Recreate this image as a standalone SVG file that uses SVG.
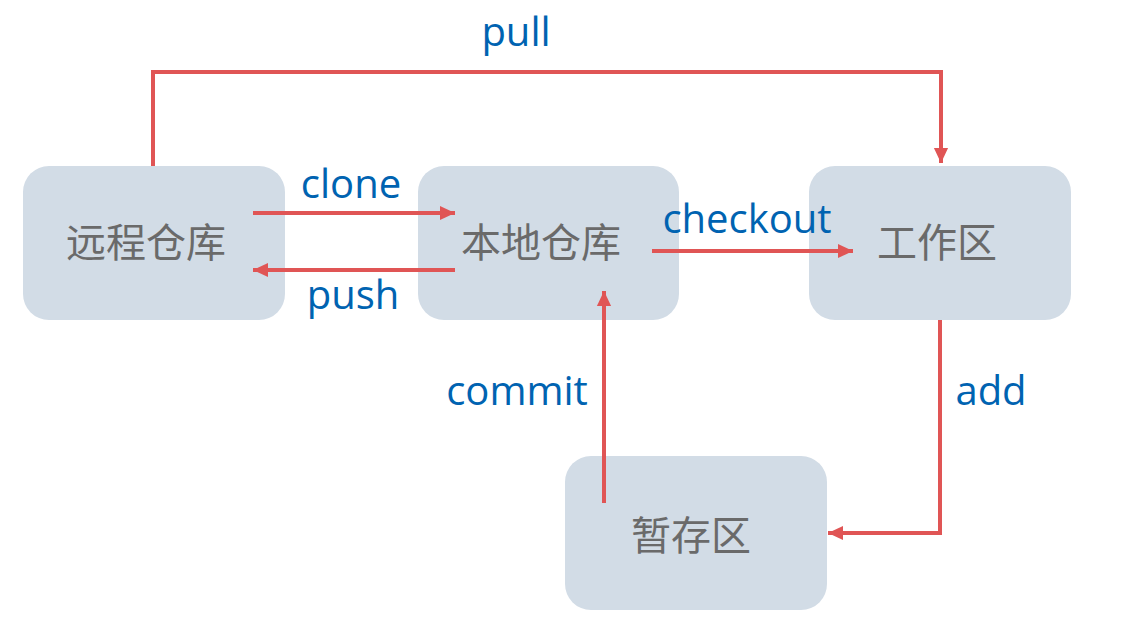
<svg xmlns="http://www.w3.org/2000/svg" width="1131" height="628" viewBox="0 0 1131 628">
<style>
.node rect{fill:#D2DCE6}
.node text{font-family:"Noto Sans CJK SC","Noto Sans",sans-serif;font-size:40px;fill:#6a6a6a;text-anchor:middle;dominant-baseline:central}
.edge{fill:none;stroke:#E05555;stroke-width:4}
.lbl{font-family:"Open Sans","Noto Sans",sans-serif;font-size:40px;fill:#0063B1;text-anchor:middle}
</style>
<defs>
<marker id="ah" markerWidth="5" markerHeight="5" refX="3.8" refY="2" orient="auto" markerUnits="strokeWidth">
<path d="M0,0.2 L3.8,2 L0,3.8 Z" fill="#E05555"/>
</marker>
</defs>
<rect width="1131" height="628" fill="#ffffff"/>
<g id="remote" class="node"><rect x="23" y="166" width="262" height="154" rx="26"/><text x="146" y="240">远程仓库</text></g>
<g id="local" class="node"><rect x="418" y="166" width="261" height="154" rx="26"/><text x="541" y="240">本地仓库</text></g>
<g id="work" class="node"><rect x="809" y="166" width="262" height="154" rx="26"/><text x="937" y="240">工作区</text></g>
<g id="stage" class="node"><rect x="565" y="456" width="262" height="154" rx="26"/><text x="691" y="533">暂存区</text></g>
<g id="connectors">
<path class="edge" d="M153,166 V72 H941 V163" marker-end="url(#ah)"/>
<path class="edge" d="M253,213 H455" marker-end="url(#ah)"/>
<path class="edge" d="M455,270 H253" marker-end="url(#ah)"/>
<path class="edge" d="M652,251 H853" marker-end="url(#ah)"/>
<path class="edge" d="M604,503 V291" marker-end="url(#ah)"/>
<path class="edge" d="M940,320 V533 H828" marker-end="url(#ah)"/>
</g>
<g id="labels">
<text class="lbl" x="516" y="46">pull</text>
<text class="lbl" x="351" y="198">clone</text>
<text class="lbl" x="353" y="309">push</text>
<text class="lbl" x="747" y="233">checkout</text>
<text class="lbl" x="517" y="405">commit</text>
<text class="lbl" x="991" y="405">add</text>
</g>
</svg>
